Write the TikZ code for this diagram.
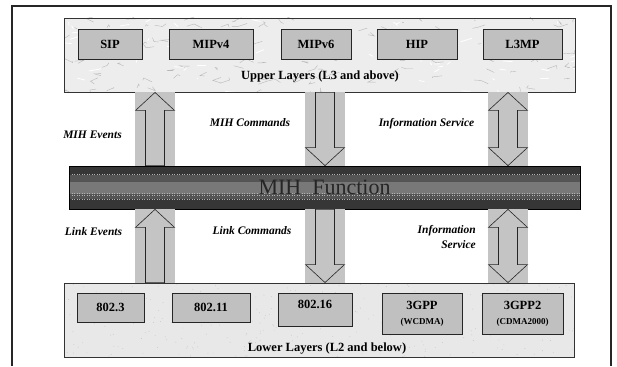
\documentclass[tikz,border=0pt]{standalone}
\usepackage{fontspec}
\setmainfont{Liberation Serif}
\usetikzlibrary{calc}

\definecolor{protofill}{HTML}{C0C0C0}
\definecolor{bandfill}{HTML}{C4C4C4}

\begin{document}
\begin{tikzpicture}[x=1pt,y=-1pt,
  layer/.style={draw=black!80,line width=0.9pt,inner sep=0pt},
  proto/.style={draw=black!85,fill=protofill,line width=0.7pt,inner sep=0pt,align=center,font=\bfseries\fontsize{12.5}{15}\selectfont},
  layertext/.style={inner sep=0pt,font=\bfseries\fontsize{12.5}{15}\selectfont},
  flow/.style={inner sep=0pt,font=\bfseries\itshape\fontsize{11.5}{15}\selectfont},
  band/.style={fill=bandfill},
  blockarrow/.style={draw=black!85,fill=bandfill,line width=0.6pt}]
  \useasboundingbox (0,0) rectangle (617,366);
  \draw[black!85,line width=1.2pt] (12,366) |- (611,6) -- (611,366);

  % upper layers
  \node[layer,fill=black!7,minimum width=511,minimum height=74,
    path picture={\pgfmathsetseed{5}
      \foreach \vn in {1,...,140}
        \draw[black!28,line width=0.4pt] ($(path picture bounding box.north west)+({rnd*520},{rnd*80})$) -- ++({rand*10},{rand*4}) -- ++({rand*9},{rand*4});
      \foreach \vn in {1,...,60}
        \draw[white,line width=0.8pt] ($(path picture bounding box.north west)+({rnd*520},{rnd*80})$) -- ++({rand*12},{rand*4});}] (upper) at (319.5,55) {};
  \node[proto,minimum width=64,minimum height=30] (sip) at (110,44) {SIP};
  \node[proto,minimum width=84,minimum height=30] (mipv4) at (211,44) {MIPv4};
  \node[proto,minimum width=70,minimum height=30] (mipv6) at (316,44) {MIPv6};
  \node[proto,minimum width=80,minimum height=30] (hip) at (417,44) {HIP};
  \node[proto,minimum width=79,minimum height=30] (l3mp) at (522.5,44) {L3MP};
  \node[layertext] (upperlbl) at (320,77) {Upper Layers (L3 and above)};

  % MIH function bar
  \node[draw=black,line width=0.8pt,fill=black!79,minimum width=511,minimum height=43,inner sep=0pt,
    font=\fontsize{22}{24}\selectfont,text=black!85,
    path picture={
      \fill[black!67] ($(path picture bounding box.north west)+(0,9)$) rectangle ($(path picture bounding box.north east)+(0,33)$);
      \fill[black!53] ($(path picture bounding box.north west)+(0,16)$) rectangle ($(path picture bounding box.north east)+(0,28)$);
      \foreach \dy in {8.5,27,29.5,33.5}
        \draw[black!30,line width=0.5pt,dotted] ($(path picture bounding box.north west)+(0,\dy)$) -- ($(path picture bounding box.north east)+(0,\dy)$);}] (mih) at (324.5,187.5) {MIH~ Function};

  % lower layers
  \node[layer,fill=black!9,minimum width=510,minimum height=74,
    path picture={\pgfmathsetseed{9}
      \foreach \vn in {1,...,350}
        \fill[black!22] ($(path picture bounding box.north west)+({rnd*510},{rnd*74})$) circle (0.45);}] (lower) at (319,320) {};
  \node[proto,minimum width=67,minimum height=29] (e8023) at (110.5,307.5) {802.3};
  \node[proto,minimum width=78,minimum height=29] (e80211) at (211,307.5) {802.11};
  \node[proto,minimum width=74,minimum height=33] (e80216) at (315,309.5) {802.16\\[-4pt]};
  \node[proto,minimum width=80,minimum height=41] (gpp) at (422,313.5) {3GPP\\{\fontsize{9}{10}\selectfont(WCDMA)}};
  \node[proto,minimum width=81,minimum height=41] (gpp2) at (522.5,313.5) {3GPP2\\{\fontsize{9}{10}\selectfont(CDMA2000)}};
  \node[layertext] (lowerlbl) at (327,349) {Lower Layers (L2 and below)};

  % service primitives between the layers
  \foreach \hi/\lo in {upper/mih,mih/lower} {
    \path (155,0 |- \hi.south) coordinate (evA) (155,0 |- \lo.north) coordinate (evB)
          (325,0 |- \hi.south) coordinate (cmA) (325,0 |- \lo.north) coordinate (cmB)
          (508,0 |- \hi.south) coordinate (isA) (508,0 |- \lo.north) coordinate (isB);
    \foreach \nm in {ev,cm,is}
      \fill[band] ($(\nm A)+(-20,0)$) rectangle ($(\nm B)+(20,0)$);
    % events go up
    \draw[blockarrow] (evA) -- ++(19.5,18) -- ++(-10,0) |- ($(evB)+(-9.5,0)$) -- ($(evA)+(-9.5,18)$) -- ++(-10,0) -- cycle;
    % commands go down
    \draw[blockarrow] (cmB) -- ++(19.5,-18) -- ++(-10,0) |- ($(cmA)+(-9.5,0)$) -- ($(cmB)+(-9.5,-18)$) -- ++(-10,0) -- cycle;
    % information service both ways
    \draw[blockarrow] (isA) -- ++(19.5,18) -- ++(-10,0) -- ($(isB)+(9.5,-18)$) -- ++(10,0) -- (isB) -- ++(-19.5,-18) -- ++(10,0) -- ($(isA)+(-9.5,18)$) -- ++(-10,0) -- cycle;
  }

  \node[flow] (mihev) at (92.5,135) {MIH Events};
  \node[flow] (mihcmd) at (250,123) {MIH Commands};
  \node[flow] (mihis) at (426.5,124) {Information Service};
  \node[flow] (linkev) at (93.5,232) {Link Events};
  \node[flow] (linkcmd) at (252,231) {Link Commands};
  \node[flow,align=right,anchor=east] (linkis) at (476,237.5) {Information\\Service};
\end{tikzpicture}
\end{document}
